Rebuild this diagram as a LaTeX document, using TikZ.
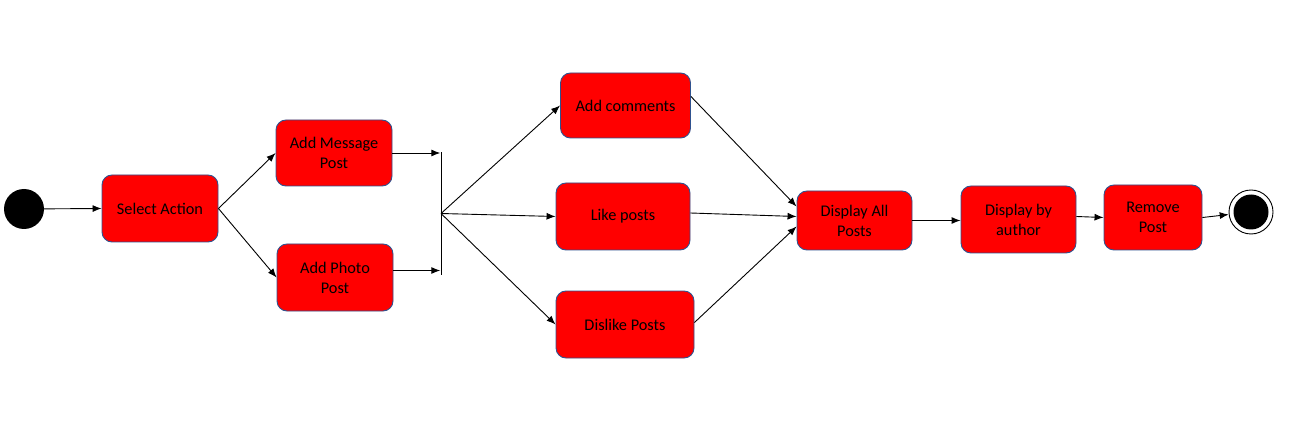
\documentclass[tikz,border=0pt]{standalone}
\usepackage{fontspec}
\setmainfont{Carlito}
\usetikzlibrary{arrows.meta}
\definecolor{boxred}{HTML}{FF0000}
\definecolor{boxborder}{HTML}{2F528F}
\begin{document}
\begin{tikzpicture}[x=1pt,y=-1pt,
  act/.style={draw=boxborder,fill=boxred,rounded corners=10pt,line width=0.9pt,
    align=center,font=\fontsize{16.3}{20}\selectfont,inner sep=0pt},
  conn/.style={line width=0.9pt,-{Latex[length=9pt,width=7pt]}},
  plain/.style={line width=0.8pt}]
\useasboundingbox (0,0) rectangle (1292,438);
\node[circle,fill=black,minimum size=40pt,inner sep=0pt] (start) at (24,209) {};
\node[act,minimum width=116pt,minimum height=67pt] (sel) at (160,208.5) {Select Action};
\node[act,minimum width=116pt,minimum height=66pt] (msg) at (334,153) {Add Message\\Post};
\node[act,minimum width=116pt,minimum height=67pt] (pho) at (335,277.5) {Add Photo\\Post};
\node[fill=black,minimum width=1pt,minimum height=123pt,inner sep=0pt] (bar) at (441,213.5) {};
\node[act,minimum width=130pt,minimum height=65pt] (com) at (625.5,105.5) {Add comments};
\node[act,minimum width=134pt,minimum height=67pt] (like) at (623,216.5) {Like posts};
\node[act,minimum width=138pt,minimum height=67pt] (dis) at (625,324.5) {Dislike Posts};
\node[act,minimum width=115pt,minimum height=59pt] (disp) at (854.5,220.5) {Display All\\Posts};
\node[act,minimum width=115pt,minimum height=67pt] (auth) at (1018.5,219.5) {Display by\\author};
\node[act,minimum width=98pt,minimum height=65pt] (rem) at (1153,217.5) {Remove\\Post};
\node[circle,draw=black,line width=0.9pt,fill=white,minimum size=44pt,inner sep=0pt] (fin) at (1251,212) {};
\node[circle,fill=black,minimum size=35pt,inner sep=0pt] (fininner) at (fin.center) {};
\draw[conn] (start) -- (sel.west);
\draw[conn] (sel.east) -- (msg.west);
\draw[conn] (sel.east) -- (pho.west);
\draw[conn] (msg.east) -- (msg.east -| bar.west);
\draw[conn] ([yshift=7pt]pho.east) -- ([yshift=7pt]pho.east -| bar.west);
\draw[conn] (bar.center) -- (com.west);
\draw[conn] (bar.center) -- (like.west);
\draw[conn] (bar.center) -- (dis.west);
\draw[conn] ([yshift=9pt]com.east) -- ([yshift=14pt]disp.west);
\draw[conn] ([yshift=3.5pt]like.east) -- ([yshift=4pt]disp.west);
\draw[conn] ([yshift=2pt]dis.east) -- ([yshift=-6pt]disp.west);
\draw[conn] (disp.east) -- (disp.east -| auth.west);
\draw[conn] ([yshift=3pt]auth.east) -- (rem.west);
\draw[conn] (rem.east) -- (fin);
\end{tikzpicture}
\end{document}
